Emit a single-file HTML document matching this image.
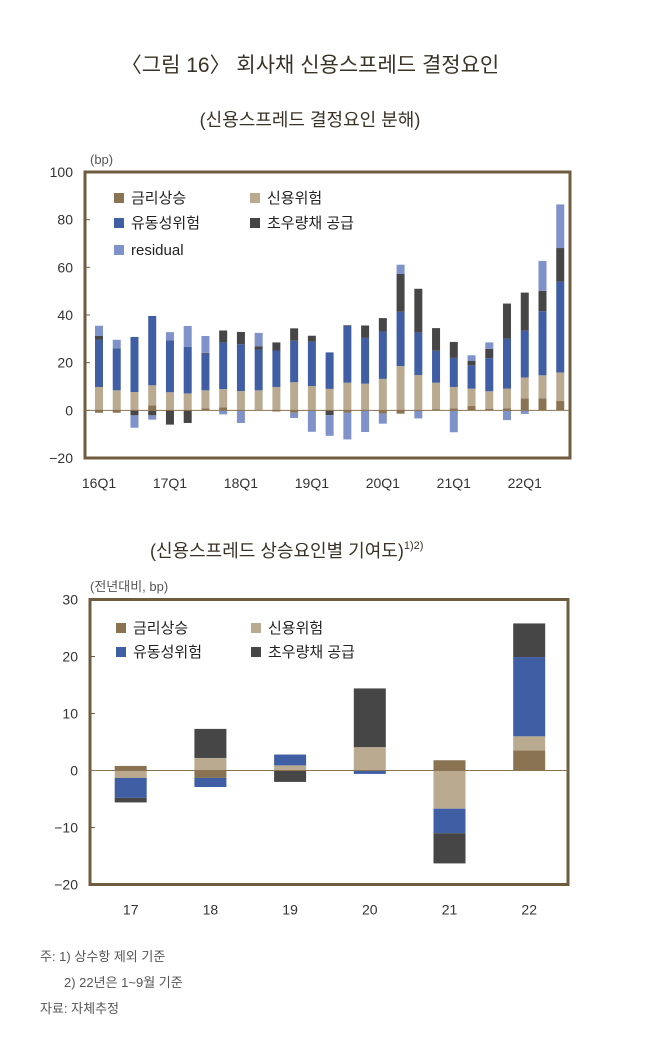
<!DOCTYPE html>
<html><head><meta charset="utf-8">
<style>
html,body{margin:0;padding:0;background:#fff;}
svg{display:block;font-family:"Liberation Sans","Noto Sans CJK KR",sans-serif;}
</style></head>
<body>
<svg id="c" width="657" height="1050" viewBox="0 0 657 1050" xmlns="http://www.w3.org/2000/svg">
<text x="310" y="72" font-size="21" fill="#3a3226" text-anchor="middle">〈그림 16〉 회사채 신용스프레드 결정요인</text>
<text x="310" y="126" font-size="18" fill="#3a3226" text-anchor="middle">(신용스프레드 결정요인 분해)</text>
<text x="90" y="164" font-size="13" fill="#555">(bp)</text>
<text x="150" y="557" font-size="18" fill="#3a3226">(신용스프레드 상승요인별 기여도)<tspan font-size="11" dy="-8">1)2)</tspan></text>
<text x="90" y="591" font-size="13" fill="#555">(전년대비, bp)</text>
<g id="g1"></g>
<g id="g2"></g>
<text x="40" y="961" font-size="13" fill="#555">주: 1) 상수항 제외 기준</text>
<text x="64" y="987" font-size="13" fill="#555">2) 22년은 1~9월 기준</text>
<text x="40" y="1013" font-size="13" fill="#555">자료: 자체추정</text>
</svg>
<script>
// Chart 1 data (bp), 16Q1..22Q3
const quarters1 = ["16Q1","16Q2","16Q3","16Q4","17Q1","17Q2","17Q3","17Q4","18Q1","18Q2","18Q3","18Q4","19Q1","19Q2","19Q3","19Q4","20Q1","20Q2","20Q3","20Q4","21Q1","21Q2","21Q3","21Q4","22Q1","22Q2","22Q3"];
const rate1 = [-1,-1,0,2.1,0,0,0.8,1.3,0,0,-0.5,-1,0,0,-1,0,-1.4,-1.4,0,0.5,0.8,1.8,0.7,0.8,5,5,3.9];
const credit1 = [9.8,8.4,7.7,8.4,7.6,7.1,7.6,7.6,8.1,8.4,9.8,11.8,10.2,9,11.6,11.2,13.2,18.6,14.8,11.1,9,7.3,7.3,8.3,8.8,9.7,12];
const liquidity1 = [19.9,17.6,23.1,29.1,21.8,19.5,15.3,19.6,19.6,17.1,15.3,17.4,18.6,15.3,23.8,19.2,19.9,22.8,17.9,13.4,12.2,9.8,13.9,21,19.6,26.9,38.1];
const supply1 = [1.5,0,-2.1,-2.1,-6,-5.3,0.4,5,5.2,1.4,3.4,5.2,2.5,-2,0.3,5.2,5.6,15.8,18.3,9.5,6.7,1.8,3.9,14.7,16,8.5,14.1];
const resid1 = [4.3,3.6,-5.2,-1.8,3.4,8.8,7.1,-1.7,-5.3,5.6,0,-2.2,-9,-8.7,-11.2,-9.1,-4.2,3.9,-3.4,0,-9.2,2.4,2.7,-4.1,-1.5,12.6,18.3];
const ticks1 = [100,80,60,40,20,0,-20];
const xlabels1 = ["16Q1","17Q1","18Q1","19Q1","20Q1","21Q1","22Q1"];
// Chart 2 data (bp yoy)
const years2 = ["17","18","19","20","21","22"];
const rate2 = [0.8,-1.3,0,0,1.8,3.5];
const credit2 = [-1.3,2.2,0.9,4.1,-6.7,2.5];
const liquidity2 = [-3.5,-1.6,1.9,-0.6,-4.3,13.9];
const supply2 = [-0.8,5.1,-2.0,10.3,-5.3,5.9];
const ticks2 = [30,20,10,0,-10,-20];

const NS="http://www.w3.org/2000/svg";
const colors=["#8a7352","#b9aa90","#3f5ea3","#464646","#7f92c9"];
function mk(parent,tag,attrs){const e=document.createElementNS(NS,tag);for(const k in attrs)e.setAttribute(k,attrs[k]);parent.appendChild(e);return e;}

function drawChart(g,cfg){
  const y=v=>cfg.y0-(v-cfg.vmin)*(cfg.y0-cfg.y1)/(cfg.vmax-cfg.vmin);
  // frame
  const fr=mk(g,"rect",{x:cfg.fx0,y:cfg.y1,width:cfg.fx1-cfg.fx0,height:cfg.y0-cfg.y1,fill:"none",stroke:"#6f5c3f","stroke-width":3});
  
  
  cfg.ticks.forEach(t=>{
    const tx=mk(g,"text",{x:cfg.fx0-12,y:y(t)+5,"font-size":14,fill:"#333","text-anchor":"end"});
    tx.textContent=t<0?"−"+(-t):String(t);
    
    
    const tk=mk(g,"line",{x1:cfg.fx0,x2:cfg.fx0+5,y1:y(t),y2:y(t),stroke:"#6f5c3f","stroke-width":1});
    
    
  });
  const x=i=>cfg.xc0+i*cfg.dx;
  cfg.series.forEach((s,si)=>{});
  for(let i=0;i<cfg.n;i++){
    let pos=0,neg=0;
    cfg.series.forEach((s,si)=>{
      const v=s[i]; if(!v) return;
      let a,b;
      if(v>0){a=pos;b=pos+v;pos=b;}else{a=neg;b=neg+v;neg=b;}
      const r=mk(g,"rect",{x:x(i)-cfg.bw/2,y:y(Math.max(a,b)),width:cfg.bw,height:Math.abs(y(a)-y(b)),fill:colors[si]});
      
      
    });
  }
  const zl=mk(g,"line",{x1:cfg.fx0,x2:cfg.fx1,y1:y(0),y2:y(0),stroke:"#8a7352","stroke-width":1});
  
  
  cfg.xl.forEach(l=>{
    const tx=mk(g,"text",{x:x(l.i),y:cfg.y0+cfg.xly,"font-size":14,fill:"#333","text-anchor":"middle"});
    tx.textContent=l.t;
    
    
  });
  cfg.legend.forEach(L=>{
    const sq=mk(g,"rect",{x:L.x,y:L.y-10,width:10,height:10,fill:colors[L.c]});
    
    
    const tx=mk(g,"text",{x:L.x+17,y:L.y,"font-size":15,fill:"#222"});
    tx.textContent=L.t;
    
    
  });
}
const n1=quarters1.length;
drawChart(document.getElementById("g1"),{
  fx0:85,fx1:570,y1:172,y0:458,vmin:-20,vmax:100,ticks:ticks1,n:n1,
  xc0:99,dx:17.74,bw:8,series:[rate1,credit1,liquidity1,supply1,resid1],
  xl:xlabels1.map(t=>({i:quarters1.indexOf(t),t:t})),xly:30,
  legend:[{x:114,y:203,c:0,t:"금리상승"},{x:250,y:203,c:1,t:"신용위험"},{x:114,y:228,c:2,t:"유동성위험"},{x:250,y:228,c:3,t:"초우량채 공급"},{x:114,y:255,c:4,t:"residual"}]
});
drawChart(document.getElementById("g2"),{
  fx0:90,fx1:568,y1:599.5,y0:884.5,vmin:-20,vmax:30,ticks:ticks2,n:years2.length,
  xc0:130.7,dx:79.7,bw:32,series:[rate2,credit2,liquidity2,supply2],
  xl:years2.map((t,i)=>({i:i,t:t})),xly:30,
  legend:[{x:116,y:633,c:0,t:"금리상승"},{x:251,y:633,c:1,t:"신용위험"},{x:116,y:657,c:2,t:"유동성위험"},{x:251,y:657,c:3,t:"초우량채 공급"}]
});
</script>
</body></html>
